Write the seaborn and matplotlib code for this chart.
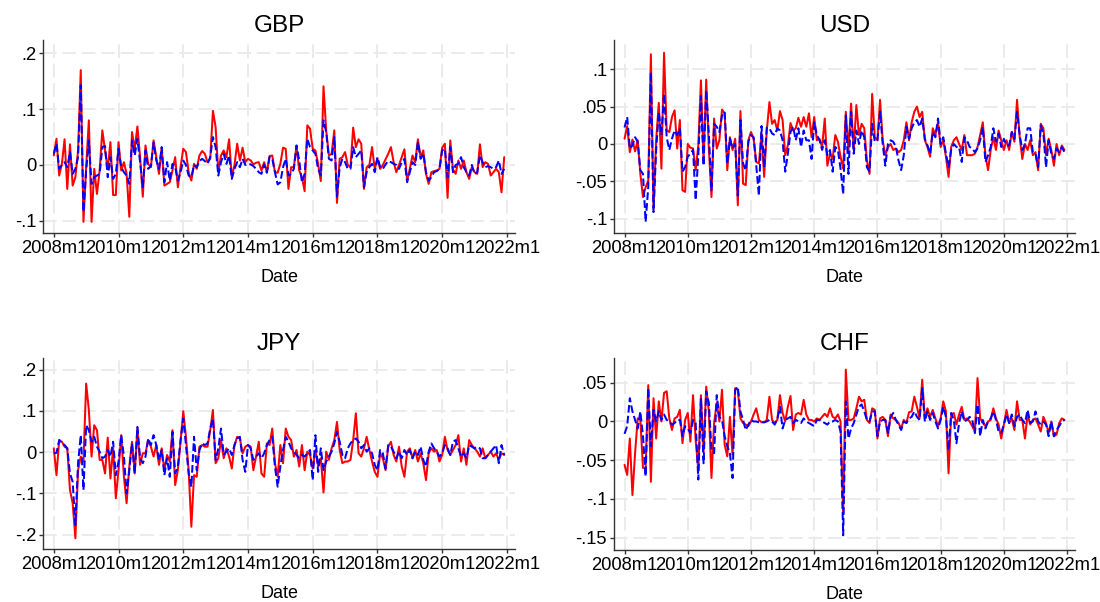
import numpy as np
import pandas as pd
import matplotlib
matplotlib.use("Agg")
import matplotlib.pyplot as plt
import seaborn as sns

# Monthly returns, 2008m1 .. 2021m12 (168 months); "actual" solid red, "fitted" dashed blue
months = list(range(168))
date_ticks = [0, 24, 48, 72, 96, 120, 144, 168]
date_labels = ["2008m1", "2010m1", "2012m1", "2014m1", "2016m1", "2018m1", "2020m1", "2022m1"]

gbp_actual = [
    0.017, 0.047, -0.019, 0.002, 0.046, -0.043, 0.037, -0.037, -0.022, 0.026,
    0.170, -0.102, -0.004, 0.080, -0.102, -0.007, -0.052, -0.010, 0.062, 0.026,
    -0.007, 0.041, -0.054, -0.054, 0.041, -0.010, 0.005, -0.016, -0.093, 0.059,
    0.029, 0.069, 0.014, -0.057, 0.035, 0.002, -0.004, 0.044, 0.014, -0.016,
    0.031, -0.037, -0.034, -0.031, -0.010, 0.014, -0.040, -0.004, 0.029, 0.023,
    -0.013, -0.028, 0.002, -0.007, 0.017, 0.025, 0.020, 0.005, 0.011, 0.097,
    0.068, -0.013, 0.017, 0.026, 0.014, 0.046, -0.022, 0.000, 0.038, 0.008,
    0.031, 0.005, 0.011, 0.008, 0.001, 0.004, 0.005, -0.010, 0.005, -0.013,
    0.016, 0.017, -0.013, -0.014, 0.002, 0.031, 0.029, -0.043, -0.004, -0.004,
    0.034, -0.010, -0.022, -0.047, 0.071, 0.065, 0.029, 0.026, 0.002, -0.029,
    0.141, 0.062, 0.017, 0.020, 0.062, -0.068, 0.011, 0.014, 0.023, 0.000,
    -0.004, 0.067, 0.032, 0.046, 0.038, -0.043, -0.004, 0.000, 0.032, -0.007,
    0.011, -0.007, 0.000, 0.010, 0.020, 0.032, 0.005, -0.013, 0.000, 0.014,
    0.028, -0.028, -0.007, 0.017, 0.005, 0.046, 0.014, 0.026, -0.016, -0.034,
    -0.013, -0.011, -0.010, -0.007, 0.031, 0.038, -0.059, 0.044, -0.008, -0.016,
    0.008, -0.007, 0.008, -0.013, -0.025, -0.004, -0.013, -0.016, 0.037, -0.004,
    0.005, 0.002, -0.019, -0.013, -0.007, -0.013, -0.049, 0.014,
]
gbp_fitted = [
    0.020, 0.038, -0.007, 0.000, 0.005, -0.004, 0.023, -0.016, -0.007, 0.014,
    0.143, -0.084, -0.010, 0.044, -0.034, -0.022, -0.019, -0.016, 0.032, 0.034,
    -0.022, 0.014, -0.025, -0.016, 0.029, -0.004, -0.013, -0.019, -0.034, 0.044,
    0.017, 0.047, 0.005, -0.040, 0.026, -0.007, -0.002, 0.040, 0.008, -0.007,
    0.032, -0.031, 0.005, -0.028, 0.002, -0.004, -0.028, -0.013, 0.008, 0.000,
    -0.019, -0.022, 0.000, -0.004, 0.007, 0.011, 0.007, 0.002, 0.014, 0.050,
    0.032, -0.019, 0.005, 0.020, 0.002, 0.017, -0.025, -0.007, 0.005, -0.004,
    0.011, 0.000, 0.002, 0.001, -0.002, -0.007, -0.013, -0.016, 0.001, -0.014,
    0.014, 0.011, -0.013, -0.035, -0.031, -0.004, 0.011, -0.019, -0.016, -0.007,
    0.035, 0.008, -0.031, -0.016, 0.047, 0.032, 0.026, 0.020, -0.007, -0.019,
    0.080, 0.059, 0.011, 0.008, 0.050, -0.057, -0.004, 0.011, 0.005, -0.007,
    -0.007, 0.032, 0.014, 0.020, 0.026, -0.040, -0.013, -0.004, 0.002, -0.013,
    0.014, -0.004, -0.007, 0.001, 0.007, 0.005, 0.002, 0.000, -0.007, 0.005,
    0.011, -0.031, -0.013, 0.005, 0.000, 0.041, 0.011, 0.020, -0.013, -0.028,
    -0.022, -0.013, -0.011, -0.007, 0.026, 0.029, -0.022, 0.032, -0.013, 0.000,
    0.002, 0.014, -0.004, -0.013, -0.019, 0.000, -0.016, -0.013, 0.017, 0.005,
    -0.004, -0.002, -0.004, -0.007, -0.004, 0.008, -0.016, -0.007,
]

usd_actual = [
    0.007, 0.024, -0.011, 0.006, -0.010, 0.005, -0.040, -0.071, -0.058, -0.049,
    0.120, -0.087, 0.005, 0.055, -0.033, 0.122, 0.018, 0.016, 0.036, 0.045,
    -0.006, 0.032, -0.062, -0.064, 0.000, -0.005, -0.006, -0.035, -0.002, 0.085,
    -0.022, 0.086, -0.006, -0.071, 0.034, -0.006, 0.005, 0.046, 0.041, -0.035,
    0.009, -0.008, 0.007, -0.082, 0.044, -0.053, -0.055, 0.005, 0.016, 0.007,
    -0.024, -0.026, 0.014, -0.044, 0.018, 0.056, 0.027, 0.032, 0.018, 0.044,
    0.032, -0.015, -0.002, 0.028, 0.018, 0.021, 0.035, 0.023, 0.036, 0.023,
    0.041, 0.009, 0.036, 0.005, 0.007, -0.004, 0.034, -0.029, -0.013, -0.020,
    0.012, 0.003, -0.017, -0.033, 0.043, -0.008, 0.054, -0.008, 0.052, 0.012,
    0.027, 0.021, -0.022, -0.040, 0.067, 0.009, 0.005, 0.059, 0.005, -0.015,
    -0.004, 0.000, -0.008, -0.006, -0.011, -0.008, 0.005, 0.029, 0.005, 0.029,
    0.043, 0.050, 0.036, 0.043, 0.005, -0.004, -0.017, 0.021, 0.012, 0.029,
    -0.004, 0.005, -0.017, -0.044, -0.004, 0.005, 0.009, 0.000, -0.008, 0.012,
    -0.015, -0.015, -0.015, -0.013, -0.004, 0.012, 0.029, -0.015, -0.035, -0.008,
    0.009, -0.008, 0.018, 0.005, -0.008, 0.005, -0.008, 0.016, 0.003, 0.059,
    0.009, -0.020, 0.000, -0.008, 0.005, -0.015, -0.011, -0.035, 0.027, 0.021,
    -0.015, 0.007, -0.008, -0.029, 0.000, -0.015, -0.002, -0.008,
]
usd_fitted = [
    0.022, 0.036, -0.006, -0.002, 0.009, 0.003, -0.035, -0.040, -0.104, -0.058,
    0.096, -0.091, -0.008, 0.043, 0.012, 0.067, 0.009, -0.008, 0.007, 0.018,
    0.012, 0.021, -0.037, -0.031, -0.017, -0.013, -0.008, -0.075, -0.015, 0.064,
    -0.029, 0.072, 0.014, -0.062, 0.027, 0.023, 0.016, 0.038, 0.043, -0.026,
    0.007, -0.006, 0.000, -0.069, 0.032, -0.026, -0.035, 0.003, 0.012, 0.009,
    -0.029, -0.069, 0.024, -0.031, 0.022, 0.021, 0.014, 0.012, 0.021, 0.018,
    0.005, -0.037, -0.013, 0.016, 0.023, 0.005, 0.021, -0.004, 0.018, 0.005,
    0.005, -0.020, 0.029, 0.012, 0.005, -0.008, 0.005, -0.015, -0.008, -0.037,
    -0.004, -0.008, -0.033, -0.067, 0.038, -0.040, 0.043, -0.013, 0.018, 0.000,
    0.018, 0.009, -0.031, -0.037, 0.027, 0.003, 0.005, 0.043, 0.000, -0.029,
    0.000, 0.005, 0.003, -0.004, -0.022, -0.035, -0.015, 0.023, 0.007, 0.021,
    0.029, 0.032, 0.023, 0.034, 0.007, -0.002, -0.013, 0.016, 0.009, 0.034,
    0.000, 0.009, -0.013, -0.031, -0.008, 0.000, -0.004, -0.004, -0.024, 0.009,
    0.005, -0.004, -0.006, -0.011, -0.006, 0.005, 0.023, -0.024, -0.015, -0.004,
    0.021, 0.003, 0.014, -0.004, 0.007, -0.002, -0.002, 0.016, 0.007, 0.043,
    0.012, -0.008, 0.000, 0.021, 0.021, -0.011, -0.013, -0.031, 0.025, 0.014,
    -0.031, 0.005, -0.013, -0.020, -0.006, -0.011, -0.004, -0.011,
]

jpy_actual = [
    0.009, -0.056, 0.029, 0.025, 0.013, 0.009, -0.092, -0.124, -0.209, -0.044,
    -0.011, -0.023, 0.166, 0.102, -0.011, 0.065, 0.053, -0.019, -0.019, -0.052,
    0.035, -0.064, 0.009, -0.112, -0.044, 0.041, -0.060, -0.124, -0.035, 0.025,
    -0.052, 0.057, -0.031, -0.003, -0.003, 0.029, 0.013, -0.011, 0.017, -0.031,
    0.009, -0.044, -0.007, -0.023, 0.053, -0.080, -0.044, 0.025, 0.099, 0.037,
    -0.044, -0.181, -0.056, -0.060, 0.013, 0.017, 0.013, 0.013, 0.053, 0.102,
    -0.027, -0.015, 0.029, -0.015, 0.009, -0.011, -0.040, 0.017, 0.037, 0.033,
    -0.003, 0.013, 0.017, 0.013, -0.044, -0.011, 0.025, -0.052, -0.060, 0.021,
    0.017, 0.057, -0.027, -0.060, 0.017, -0.027, 0.057, 0.037, 0.029, -0.011,
    0.005, -0.035, 0.017, -0.044, 0.001, -0.007, -0.040, 0.005, -0.035, -0.015,
    -0.098, 0.001, -0.019, 0.009, 0.029, 0.073, 0.005, -0.027, -0.023, -0.023,
    -0.019, 0.029, 0.094, -0.003, -0.011, 0.009, 0.037, 0.005, -0.023, -0.048,
    -0.060, -0.003, -0.015, -0.044, 0.013, 0.025, -0.007, -0.023, 0.013, -0.035,
    -0.060, 0.001, 0.009, -0.015, 0.005, -0.023, -0.003, -0.027, -0.068, -0.003,
    0.009, 0.001, 0.005, -0.023, -0.007, 0.037, 0.005, -0.007, 0.005, 0.017,
    0.041, -0.023, 0.009, -0.031, 0.029, 0.017, 0.009, 0.001, -0.011, 0.009,
    -0.015, -0.007, 0.001, -0.011, -0.003, -0.019, -0.003, -0.007,
]
jpy_fitted = [
    -0.003, -0.002, 0.029, 0.021, 0.017, 0.009, -0.052, -0.072, -0.177, -0.027,
    0.041, -0.092, 0.065, 0.053, 0.025, 0.037, 0.013, 0.001, -0.015, -0.011,
    0.005, -0.011, 0.025, -0.056, -0.023, 0.041, -0.011, -0.100, -0.044, 0.021,
    -0.052, 0.061, -0.015, -0.027, -0.011, 0.033, 0.017, 0.041, 0.017, -0.019,
    0.005, -0.056, -0.015, -0.060, 0.049, -0.052, -0.035, 0.029, 0.081, 0.017,
    -0.052, -0.084, 0.037, -0.044, 0.005, 0.021, 0.017, 0.021, 0.057, 0.081,
    -0.019, 0.009, 0.057, -0.007, 0.001, 0.009, -0.007, 0.017, 0.033, 0.037,
    -0.019, -0.048, 0.017, 0.009, -0.019, -0.011, -0.003, -0.015, -0.003, 0.017,
    0.029, 0.037, -0.035, -0.084, -0.035, 0.005, 0.037, 0.025, 0.009, 0.001,
    -0.007, -0.015, -0.007, -0.011, -0.003, 0.005, -0.068, 0.041, -0.048, 0.009,
    -0.044, -0.023, -0.011, 0.001, 0.021, 0.049, 0.025, -0.007, -0.015, 0.009,
    0.021, 0.029, 0.033, 0.025, 0.009, 0.017, 0.001, 0.009, -0.003, -0.031,
    -0.044, 0.005, -0.003, -0.040, 0.017, 0.013, 0.001, -0.015, 0.001, -0.015,
    0.005, -0.007, 0.005, -0.015, 0.001, -0.007, 0.013, -0.019, -0.035, 0.001,
    0.021, 0.009, 0.001, -0.011, -0.003, 0.017, 0.009, -0.007, 0.025, 0.029,
    0.009, -0.011, -0.003, -0.015, 0.017, 0.013, 0.009, 0.013, 0.009, -0.015,
    -0.015, -0.007, 0.001, 0.009, 0.017, -0.027, 0.017, -0.007,
]

chf_actual = [
    -0.056, -0.069, -0.022, -0.095, -0.041, 0.004, 0.002, -0.060, -0.060, 0.047,
    -0.078, 0.030, -0.022, 0.026, 0.000, 0.037, 0.039, 0.004, -0.011, 0.004,
    0.006, 0.015, -0.028, 0.002, 0.011, -0.026, 0.034, -0.024, -0.063, 0.034,
    -0.039, 0.045, 0.013, -0.073, -0.002, 0.024, 0.000, 0.041, -0.030, -0.045,
    0.006, -0.043, 0.043, 0.041, 0.004, -0.002, -0.004, -0.006, 0.000, 0.009,
    0.017, 0.002, -0.001, -0.001, 0.002, 0.032, 0.002, -0.002, 0.002, 0.034,
    0.011, 0.000, 0.019, 0.033, -0.011, 0.009, 0.011, 0.009, 0.028, 0.009,
    0.002, 0.002, 0.000, 0.004, 0.002, 0.006, 0.010, 0.006, 0.017, 0.006,
    0.004, 0.009, 0.000, -0.119, 0.067, 0.002, 0.002, 0.004, 0.017, 0.032,
    0.026, 0.028, 0.002, -0.002, 0.017, 0.015, -0.022, 0.004, 0.006, 0.002,
    -0.019, 0.009, 0.004, 0.002, -0.002, -0.009, 0.002, -0.002, 0.012, 0.013,
    0.032, 0.019, 0.004, 0.054, 0.004, 0.017, 0.006, 0.015, 0.004, -0.006,
    0.004, 0.026, 0.013, -0.067, 0.009, 0.011, -0.004, 0.009, 0.019, 0.002,
    0.004, 0.000, -0.006, -0.013, 0.056, 0.004, -0.002, -0.006, 0.000, 0.002,
    0.017, 0.004, -0.004, -0.022, -0.004, 0.015, -0.002, 0.004, -0.011, 0.026,
    0.002, 0.002, -0.022, 0.009, -0.004, 0.002, 0.004, -0.004, -0.013, 0.006,
    -0.002, -0.015, 0.000, -0.019, -0.017, -0.002, 0.004, 0.002,
]
chf_fitted = [
    -0.016, -0.006, 0.030, 0.013, 0.002, -0.009, 0.013, -0.019, -0.071, 0.043,
    -0.032, 0.015, 0.000, 0.013, 0.002, 0.009, 0.002, 0.000, -0.004, -0.002,
    0.002, 0.002, -0.019, -0.006, -0.009, -0.015, 0.002, -0.002, -0.075, 0.030,
    -0.054, 0.039, 0.024, -0.037, -0.041, 0.034, 0.006, 0.002, -0.019, -0.032,
    -0.041, -0.073, 0.041, 0.045, 0.013, 0.002, -0.011, -0.004, 0.002, 0.000,
    0.000, -0.001, -0.001, -0.001, 0.000, 0.002, 0.000, -0.004, 0.003, 0.019,
    -0.009, 0.002, 0.004, 0.006, -0.002, 0.002, 0.000, -0.002, 0.004, 0.000,
    -0.002, -0.004, -0.006, 0.002, 0.002, 0.000, -0.002, -0.004, 0.000, 0.000,
    0.002, 0.000, -0.013, -0.147, 0.026, -0.022, -0.009, -0.002, 0.009, 0.019,
    0.022, 0.013, 0.002, 0.000, 0.013, 0.013, -0.019, 0.000, 0.002, 0.002,
    -0.015, 0.006, 0.011, 0.002, -0.004, -0.011, 0.000, -0.002, 0.004, 0.006,
    0.013, 0.006, 0.002, 0.043, 0.000, 0.013, 0.002, 0.011, 0.000, -0.009,
    0.002, 0.019, 0.006, -0.037, 0.011, 0.002, -0.028, -0.002, 0.013, 0.000,
    0.002, 0.006, 0.002, -0.015, 0.022, -0.019, 0.002, -0.009, 0.000, 0.004,
    0.013, 0.002, -0.013, -0.015, -0.004, 0.009, -0.002, 0.009, -0.006, 0.006,
    0.009, 0.002, -0.002, 0.015, -0.002, 0.000, 0.013, 0.000, -0.004, 0.000,
    -0.004, -0.019, 0.000, -0.019, -0.011, -0.006, 0.000, 0.002,
]

gbp_yticks = [0.2, 0.1, 0.0, -0.1]
gbp_ylabels = [".2", ".1", "0", "-.1"]
usd_yticks = [0.1, 0.05, 0.0, -0.05, -0.1]
usd_ylabels = [".1", ".05", "0", "-.05", "-.1"]
jpy_yticks = [0.2, 0.1, 0.0, -0.1, -0.2]
jpy_ylabels = [".2", ".1", "0", "-.1", "-.2"]
chf_yticks = [0.05, 0.0, -0.05, -0.1, -0.15]
chf_ylabels = [".05", "0", "-.05", "-.1", "-.15"]

sns.set_theme(style="white")
plt.rcParams["font.family"] = ["Liberation Sans", "DejaVu Sans"]
plt.rcParams["text.color"] = "black"
plt.rcParams["axes.labelcolor"] = "black"

W, H = 1100, 602
fig = plt.figure(figsize=(W / 100, H / 100), dpi=100)
fig.patch.set_facecolor("white")

panels = [
    # name, actual, fitted, yticks, ylabels, ylim, box (left, top, right, bottom) in px
    ("GBP", gbp_actual, gbp_fitted, gbp_yticks, gbp_ylabels, (-0.122, 0.224), (43, 40, 515, 233)),
    ("USD", usd_actual, usd_fitted, usd_yticks, usd_ylabels, (-0.119, 0.139), (614, 40, 1075, 233)),
    ("JPY", jpy_actual, jpy_fitted, jpy_yticks, jpy_ylabels, (-0.235, 0.228), (43, 358, 515, 549)),
    ("CHF", chf_actual, chf_fitted, chf_yticks, chf_ylabels, (-0.166, 0.082), (614, 358, 1075, 550)),
]

palette = {"actual": "#ff0000", "fitted": "#0000ff"}
dashes = {"actual": "", "fitted": (3.8, 1.6)}

for name, actual, fitted, yt, yl, ylim, (l, t, r, b) in panels:
    ax = fig.add_axes([l / W, 1 - b / H, (r - l) / W, (b - t) / H])
    df = pd.DataFrame({
        "month": months + months,
        "value": actual + fitted,
        "series": ["actual"] * len(months) + ["fitted"] * len(months),
    })
    sns.lineplot(data=df, x="month", y="value", hue="series", style="series",
                 hue_order=["actual", "fitted"], style_order=["actual", "fitted"],
                 palette=palette, dashes=dashes, linewidth=1.45, legend=False, ax=ax)
    ax.set_xlim(-4, 171)
    ax.set_ylim(*ylim)
    ax.set_xticks(date_ticks)
    ax.set_xticklabels(date_labels)
    ax.set_yticks(yt)
    ax.set_yticklabels(yl)
    ax.set_xlabel("Date", fontsize=13, labelpad=9, color="black")
    ax.set_ylabel("")
    ax.set_title(name, fontsize=17.5, pad=6, color="black")
    ax.set_facecolor("white")
    ax.grid(True, color="#ebebeb", linestyle=(0, (7, 3)), linewidth=1.4)
    ax.set_axisbelow(True)
    for s in ("top", "right"):
        ax.spines[s].set_visible(False)
    for s in ("left", "bottom"):
        ax.spines[s].set_color("#333333")
        ax.spines[s].set_linewidth(1.0)
    ax.tick_params(axis="both", which="major", direction="out", length=3, width=1.0,
                   color="#333333", labelsize=13.2, pad=2, left=True, bottom=True,
                   labelcolor="black")

fig.savefig("out.png", dpi=100, facecolor="white")
